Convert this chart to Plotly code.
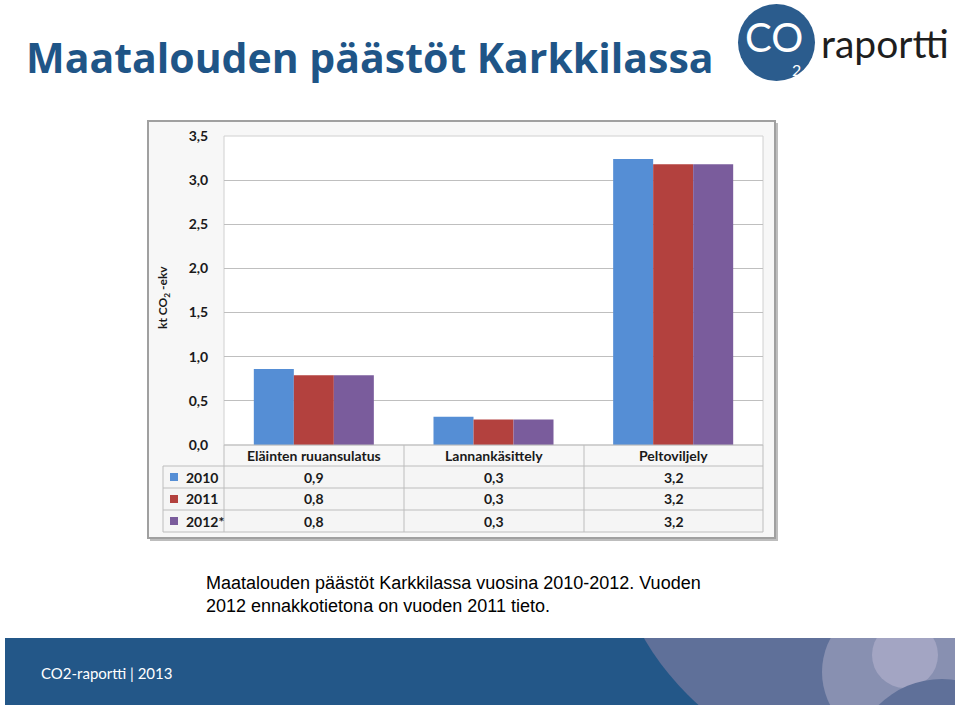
import plotly.graph_objects as go

# ---------------- data ----------------
categories = ["Eläinten ruuansulatus", "Lannankäsittely", "Peltoviljely"]
series_names = ["2010", "2011", "2012*"]
values_2010 = [0.86, 0.32, 3.24]
values_2011 = [0.79, 0.29, 3.18]
values_2012 = [0.79, 0.29, 3.18]
series_values = [values_2010, values_2011, values_2012]
series_colors = ["#558ED5", "#B3413E", "#7A5C9C"]
y_ticks = [0.0, 0.5, 1.0, 1.5, 2.0, 2.5, 3.0, 3.5]

title_text = "Maatalouden päästöt Karkkilassa"
caption_text = ("Maatalouden päästöt Karkkilassa vuosina 2010-2012. Vuoden<br>"
                "2012 ennakkotietona on vuoden 2011 tieto.")
footer_text = "CO2-raportti | 2013"
y_title = "kt CO<sub>2</sub> -ekv"

W, H = 960, 707


def X(px):
    return px / W


def Y(py):
    return 1 - py / H


# plot area in pixels
PL, PR, PT, PB = 224, 763, 136, 445
# table rows
row_edges = [445, 466, 488, 510, 532]
col_edges = [224, 404, 584, 763]
TL = 163

fig = go.Figure()
for name, vals, col in zip(series_names, series_values, series_colors):
    fig.add_trace(go.Bar(x=categories, y=vals, name=name, marker=dict(color=col, line=dict(width=0))))

shapes = []
# footer band
shapes.append(dict(type="rect", xref="paper", yref="paper", x0=X(5), x1=X(955), y0=Y(705), y1=Y(638),
                   fillcolor="#235788", line=dict(width=0), layer="below"))
# decorative circles in footer (cx, cy, R, colour)
circles = [(884, 498, 278, "#5F7099"), (893, 672, 71, "#8890B1"), (905, 655, 33, "#A3A5C3"),
           (942, 769, 90, "#5F7099")]
for cx, cy, R, c in circles:
    shapes.append(dict(type="circle", xref="paper", yref="paper", x0=X(cx - R), x1=X(cx + R),
                       y0=Y(cy + R), y1=Y(cy - R), fillcolor=c, line=dict(width=0), layer="below"))
# white covers that clip the circles to the band
shapes.append(dict(type="rect", xref="paper", yref="paper", x0=X(540), x1=X(1300), y0=Y(638), y1=Y(-50),
                   fillcolor="white", line=dict(width=0), layer="below"))
shapes.append(dict(type="rect", xref="paper", yref="paper", x0=X(540), x1=X(1300), y0=Y(900), y1=Y(705),
                   fillcolor="white", line=dict(width=0), layer="below"))
shapes.append(dict(type="rect", xref="paper", yref="paper", x0=X(955), x1=X(1300), y0=Y(900), y1=Y(-50),
                   fillcolor="white", line=dict(width=0), layer="below"))

# logo circle
shapes.append(dict(type="circle", xref="paper", yref="paper", x0=X(738), x1=X(815), y0=Y(81), y1=Y(4),
                   fillcolor="#2B5C8D", line=dict(width=0), layer="below"))

# chart frame shadow + frame
shapes.append(dict(type="rect", xref="paper", yref="paper", x0=X(150), x1=X(778), y0=Y(541), y1=Y(123),
                   fillcolor="#BDBDBD", line=dict(width=0), layer="below"))
shapes.append(dict(type="rect", xref="paper", yref="paper", x0=X(148), x1=X(775), y0=Y(538), y1=Y(121),
                   fillcolor="#F7F7F7", line=dict(color="#A0A0A0", width=2), layer="below"))
# plot area
shapes.append(dict(type="rect", xref="paper", yref="paper", x0=X(PL), x1=X(PR), y0=Y(PB), y1=Y(PT),
                   fillcolor="white", line=dict(color="#D0D0D0", width=1), layer="below"))
# table background
shapes.append(dict(type="rect", xref="paper", yref="paper", x0=X(TL), x1=X(PR), y0=Y(row_edges[-1]),
                   y1=Y(row_edges[1]), fillcolor="#F5F5F5", line=dict(width=0), layer="below"))

line_col = "#BDBDBD"
for i, ry in enumerate(row_edges):
    left = PL if i == 0 else TL
    shapes.append(dict(type="line", xref="paper", yref="paper", x0=X(left), x1=X(PR), y0=Y(ry), y1=Y(ry),
                       line=dict(color=line_col, width=1), layer="above"))
for cxp in col_edges:
    shapes.append(dict(type="line", xref="paper", yref="paper", x0=X(cxp), x1=X(cxp), y0=Y(row_edges[0]),
                       y1=Y(row_edges[-1]), line=dict(color=line_col, width=1), layer="above"))
shapes.append(dict(type="line", xref="paper", yref="paper", x0=X(TL), x1=X(TL), y0=Y(row_edges[1]),
                   y1=Y(row_edges[-1]), line=dict(color=line_col, width=1), layer="above"))

annotations = []
bold = "Lato"
for j, cat in enumerate(categories):
    cxm = (col_edges[j] + col_edges[j + 1]) / 2
    annotations.append(dict(x=X(cxm), y=Y((row_edges[0] + row_edges[1]) / 2), xref="paper", yref="paper",
                            text="<b>%s</b>" % cat, showarrow=False, xanchor="center", yanchor="middle",
                            font=dict(family=bold, size=14, color="#1A1A1A")))
for i, (name, vals, col) in enumerate(zip(series_names, series_values, series_colors)):
    ym = (row_edges[i + 1] + row_edges[i + 2]) / 2
    shapes.append(dict(type="rect", xref="paper", yref="paper", x0=X(170), x1=X(178), y0=Y(ym + 4),
                       y1=Y(ym - 4), fillcolor=col, line=dict(width=0), layer="above"))
    annotations.append(dict(x=X(184), y=Y(ym), xref="paper", yref="paper", text="<b>%s</b>" % name,
                            showarrow=False, xanchor="left", yanchor="middle",
                            font=dict(family=bold, size=14, color="#1A1A1A")))
    for j, v in enumerate(vals):
        cxm = (col_edges[j] + col_edges[j + 1]) / 2
        annotations.append(dict(x=X(cxm), y=Y(ym), xref="paper", yref="paper",
                                text="<b>%s</b>" % ("%.1f" % v).replace(".", ","),
                                showarrow=False, xanchor="center", yanchor="middle",
                                font=dict(family=bold, size=14, color="#1A1A1A")))

annotations.append(dict(x=X(163), y=Y(298), xref="paper", yref="paper", text="<b>%s</b>" % y_title,
                        textangle=-90, showarrow=False, xanchor="center", yanchor="middle",
                        font=dict(family=bold, size=12, color="#1A1A1A")))
annotations.append(dict(x=X(24), y=Y(57), xref="paper", yref="paper", text="<b>%s</b>" % title_text,
                        showarrow=False, xanchor="left", yanchor="middle",
                        font=dict(family="Open Sans", size=41, color="#1F5587")))
# logo text
annotations.append(dict(x=X(774), y=Y(37), xref="paper", yref="paper", text="CO",
                        showarrow=False, xanchor="center", yanchor="middle",
                        font=dict(family="Lato", size=40, color="white")))
annotations.append(dict(x=X(796), y=Y(69), xref="paper", yref="paper", text="2",
                        showarrow=False, xanchor="center", yanchor="middle",
                        font=dict(family="Lato", size=16, color="white")))
annotations.append(dict(x=X(819), y=Y(43), xref="paper", yref="paper", text="raportti",
                        showarrow=False, xanchor="left", yanchor="middle",
                        font=dict(family="Lato", size=39, color="#1E1E1E")))
annotations.append(dict(x=X(204), y=Y(594), xref="paper", yref="paper", text=caption_text,
                        showarrow=False, xanchor="left", yanchor="middle", align="left",
                        font=dict(family="Liberation Sans", size=18, color="black")))
annotations.append(dict(x=X(39), y=Y(673), xref="paper", yref="paper", text=footer_text,
                        showarrow=False, xanchor="left", yanchor="middle",
                        font=dict(family="Lato", size=15, color="white")))

fig.update_layout(
    width=W, height=H,
    margin=dict(l=0, r=0, t=0, b=0, pad=0),
    paper_bgcolor="white",
    plot_bgcolor="rgba(0,0,0,0)",
    separators=", ",
    barmode="group",
    bargap=0.332,
    bargroupgap=0,
    showlegend=False,
    shapes=shapes,
    annotations=annotations,
    xaxis=dict(domain=[X(PL), X(PR)], range=[-0.5, 2.5], showticklabels=False, showgrid=False,
               zeroline=False, showline=False, ticks="", automargin=False),
    yaxis=dict(domain=[Y(PB), Y(PT)], range=[0, 3.5], tickvals=y_ticks, tickformat=".1f",
               showgrid=True, gridcolor="#BFBFBF", gridwidth=1, zeroline=False, showline=False,
               ticks="outside", ticklen=12, tickcolor="rgba(0,0,0,0)", automargin=False,
               tickfont=dict(family=bold, size=14, color="#1A1A1A", weight="bold")),
)

fig.write_html("out.html")
